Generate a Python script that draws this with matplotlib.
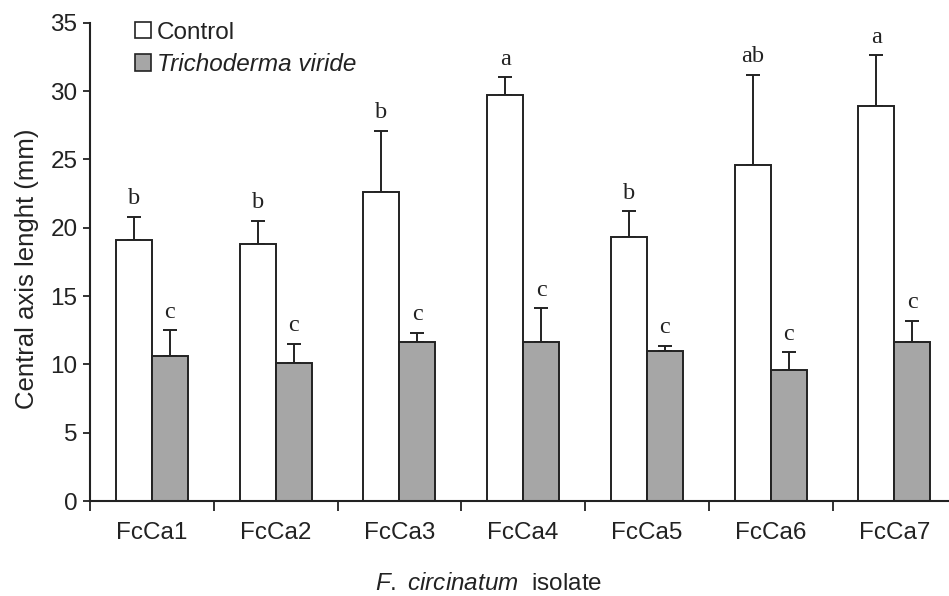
import matplotlib
matplotlib.use("Agg")
import matplotlib.pyplot as plt
from matplotlib.patches import Patch
import numpy as np

plt.rcParams['font.family'] = 'Liberation Sans'
plt.rcParams['mathtext.fontset'] = 'custom'
plt.rcParams['mathtext.rm'] = 'Liberation Sans'
plt.rcParams['mathtext.it'] = 'Liberation Sans:italic'

# datos
aislados = ['FcCa1', 'FcCa2', 'FcCa3', 'FcCa4', 'FcCa5', 'FcCa6', 'FcCa7']
control = [19.1, 18.8, 22.6, 29.7, 19.3, 24.6, 28.9]
control_err = [1.7, 1.7, 4.5, 1.3, 1.9, 6.6, 3.7]
trichoderma = [10.6, 10.1, 11.6, 11.6, 11.0, 9.6, 11.6]
trichoderma_err = [1.9, 1.4, 0.7, 2.5, 0.35, 1.3, 1.6]
letras_control = ['b', 'b', 'b', 'a', 'b', 'ab', 'a']
letras_trichoderma = ['c', 'c', 'c', 'c', 'c', 'c', 'c']

color_linea = '#222222'
color_gris = '#a6a6a6'
fs = 17.5

fig = plt.figure(figsize=(9.49, 5.96), dpi=100)
ax = fig.add_axes([90/949, 95/596, 866.3/949, 478.3/596])

x = np.arange(len(aislados)) + 0.5
ancho = 0.291

ax.bar(x - ancho/2, control, ancho, color='white', edgecolor=color_linea, linewidth=1.4, zorder=2)
ax.bar(x + ancho/2, trichoderma, ancho, color=color_gris, edgecolor=color_linea, linewidth=1.4, zorder=2)

err_kw = dict(fmt='none', ecolor=color_linea, elinewidth=1.4, capsize=5, capthick=1.4, zorder=1)
ax.errorbar(x - ancho/2, control, yerr=[np.zeros(len(control)), control_err], **err_kw)
ax.errorbar(x + ancho/2, trichoderma, yerr=[np.zeros(len(trichoderma)), trichoderma_err], **err_kw)

# letras de significancia
for i in range(len(aislados)):
    ax.annotate(letras_control[i], (x[i] - ancho/2, control[i] + control_err[i]),
                xytext=(0, 9), textcoords='offset points', ha='center', va='baseline',
                family='Liberation Serif', fontsize=fs, color=color_linea)
    ax.annotate(letras_trichoderma[i], (x[i] + ancho/2, trichoderma[i] + trichoderma_err[i]),
                xytext=(0, 9), textcoords='offset points', ha='center', va='baseline',
                family='Liberation Serif', fontsize=fs, color=color_linea)

ax.set_xlim(0, 7)
ax.set_ylim(0, 35)
ax.set_yticks(np.arange(0, 36, 5))
ax.set_xticks(x)
ax.set_xticklabels(aislados)
ax.set_xticks(np.arange(0, 8), minor=True)
ax.tick_params(axis='x', which='major', length=0, pad=15, labelsize=fs, labelcolor=color_linea)
ax.tick_params(axis='x', which='minor', length=7, width=1.3, direction='out', color=color_linea)
ax.tick_params(axis='y', length=5, width=1.3, direction='out', pad=4, labelsize=fs,
               color=color_linea, labelcolor=color_linea)

for s in ['top', 'right']:
    ax.spines[s].set_visible(False)
for s in ['left', 'bottom']:
    ax.spines[s].set_linewidth(1.5)
    ax.spines[s].set_color(color_linea)

ax.set_ylabel('Central axis lenght (mm)', fontsize=18.5, color=color_linea, va='center')
ax.yaxis.set_label_coords(-0.0733, 0.486)
ax.set_xlabel(r'$\mathit{F.\ circinatum}$  isolate', fontsize=fs, color=color_linea, va='baseline')
ax.xaxis.set_label_coords(0.4606, -0.1865)

handles = [Patch(facecolor='white', edgecolor=color_linea, linewidth=1.2),
           Patch(facecolor=color_gris, edgecolor=color_linea, linewidth=1.2)]
leg = ax.legend(handles, ['Control', 'Trichoderma viride'], loc='upper left',
                bbox_to_anchor=(0.052, 1.002), frameon=False, fontsize=fs,
                handlelength=0.65, handleheight=0.65, handletextpad=0.25,
                labelspacing=0.38, borderpad=0, borderaxespad=0)
leg.get_texts()[1].set_style('italic')
for t in leg.get_texts():
    t.set_color(color_linea)

fig.savefig('out.png', dpi=100)
